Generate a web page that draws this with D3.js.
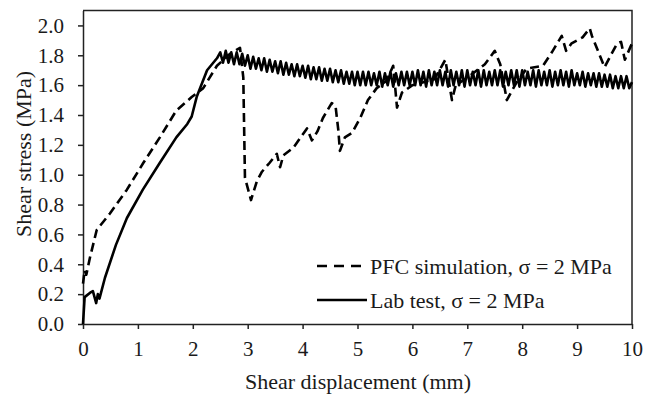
<!DOCTYPE html>
<html lang="en">
<head>
  <meta charset="UTF-8">
  <title>Shear stress vs shear displacement</title>
  <script src="https://d3js.org/d3.v7.min.js"></script>
  <style>
      body { margin: 0; background: #fff; }
      .domain, .tick line { stroke: #222; stroke-width: 1.5px; }
      .curve { fill: none; stroke: #000; stroke-width: 2.6px; stroke-linejoin: round; }
      .curve--dashed { stroke-dasharray: 9, 5; }
  </style>
</head>
<body>
<svg width="646" height="398"></svg>
<script>
  // axis ticks
  const xTicks = [0, 1, 2, 3, 4, 5, 6, 7, 8, 9, 10];
  const yTicks = [0, 0.2, 0.4, 0.6, 0.8, 1.0, 1.2, 1.4, 1.6, 1.8, 2.0];

  // PFC simulation (dashed)
  const pfcDisp = [0.0, 0.03, 0.06, 0.13, 0.25, 0.49, 0.8, 1.1, 1.4, 1.7, 1.98, 2.19, 2.44, 2.68, 2.86,
    2.92, 2.95, 3.06, 3.17, 3.26, 3.4, 3.53, 3.59, 3.65, 3.83, 4.08, 4.17, 4.27, 4.37, 4.53, 4.6,
    4.65, 4.68, 4.77, 4.9, 5.05, 5.19, 5.35, 5.53, 5.65, 5.72, 5.81, 6.0, 6.2, 6.4, 6.6, 6.72,
    6.79, 7.0, 7.32, 7.5, 7.6, 7.72, 7.9, 8.08, 8.38, 8.54, 8.72, 8.8, 8.9, 9.1, 9.23, 9.27,
    9.38, 9.5, 9.6, 9.73, 9.8, 9.87, 10.0];
  const pfcStress = [0.27, 0.36, 0.33, 0.45, 0.63, 0.74, 0.9, 1.08, 1.25, 1.43, 1.52, 1.58, 1.73, 1.81, 1.85,
    1.65, 0.98, 0.83, 0.96, 1.02, 1.08, 1.14, 1.05, 1.13, 1.18, 1.31, 1.23, 1.29, 1.38, 1.48, 1.46,
    1.3, 1.16, 1.25, 1.28, 1.38, 1.5, 1.58, 1.63, 1.73, 1.45, 1.55, 1.6, 1.62, 1.64, 1.77, 1.5,
    1.6, 1.65, 1.74, 1.83, 1.74, 1.5, 1.62, 1.71, 1.73, 1.82, 1.93, 1.83, 1.88, 1.92, 1.98, 1.93,
    1.83, 1.72, 1.79, 1.88, 1.89, 1.77, 1.88];

  // Lab test (solid)
  const labDisp = [0, 0.03, 0.13, 0.18, 0.24, 0.27, 0.3, 0.4, 0.6, 0.8, 1.09, 1.4, 1.7, 1.9, 1.98, 2.07, 2.26, 2.44,
    2.50, 2.55, 2.60, 2.65, 2.70, 2.75, 2.80, 2.85, 2.90, 2.95,
    3.00, 3.05, 3.10, 3.15, 3.20, 3.25, 3.30, 3.35, 3.40, 3.45,
    3.50, 3.55, 3.60, 3.65, 3.70, 3.75, 3.80, 3.85, 3.90, 3.95,
    4.00, 4.05, 4.10, 4.15, 4.20, 4.25, 4.30, 4.35, 4.40, 4.45,
    4.50, 4.55, 4.60, 4.65, 4.70, 4.75, 4.80, 4.85, 4.90, 4.95,
    5.00, 5.05, 5.10, 5.15, 5.20, 5.25, 5.30, 5.35, 5.40, 5.45,
    5.50, 5.55, 5.60, 5.65, 5.70, 5.75, 5.80, 5.85, 5.90, 5.95,
    6.00, 6.05, 6.10, 6.15, 6.20, 6.25, 6.30, 6.35, 6.40, 6.45,
    6.50, 6.55, 6.60, 6.65, 6.70, 6.75, 6.80, 6.85, 6.90, 6.95,
    7.00, 7.05, 7.10, 7.15, 7.20, 7.25, 7.30, 7.35, 7.40, 7.45,
    7.50, 7.55, 7.60, 7.65, 7.70, 7.75, 7.80, 7.85, 7.90, 7.95,
    8.00, 8.05, 8.10, 8.15, 8.20, 8.25, 8.30, 8.35, 8.40, 8.45,
    8.50, 8.55, 8.60, 8.65, 8.70, 8.75, 8.80, 8.85, 8.90, 8.95,
    9.00, 9.05, 9.10, 9.15, 9.20, 9.25, 9.30, 9.35, 9.40, 9.45,
    9.50, 9.55, 9.60, 9.65, 9.70, 9.75, 9.80, 9.85, 9.90, 9.95,
    10.0];
  const labStress = [0, 0.18, 0.21, 0.22, 0.14, 0.2, 0.17, 0.31, 0.53, 0.71, 0.9, 1.08, 1.25, 1.34, 1.39, 1.52, 1.7, 1.78,
    1.82, 1.75, 1.83, 1.75, 1.82, 1.74, 1.82, 1.74, 1.81, 1.73,
    1.80, 1.71, 1.79, 1.71, 1.78, 1.70, 1.78, 1.69, 1.77, 1.69,
    1.76, 1.68, 1.76, 1.67, 1.75, 1.67, 1.74, 1.66, 1.74, 1.66,
    1.73, 1.65, 1.73, 1.64, 1.72, 1.64, 1.72, 1.63, 1.71, 1.63,
    1.71, 1.62, 1.70, 1.62, 1.70, 1.61, 1.69, 1.61, 1.69, 1.60,
    1.69, 1.60, 1.69, 1.60, 1.69, 1.60, 1.68, 1.60, 1.69, 1.59,
    1.68, 1.60, 1.69, 1.59, 1.68, 1.60, 1.69, 1.60, 1.69, 1.60,
    1.69, 1.60, 1.70, 1.60, 1.69, 1.59, 1.70, 1.60, 1.69, 1.60,
    1.70, 1.60, 1.69, 1.59, 1.70, 1.60, 1.69, 1.60, 1.70, 1.59,
    1.70, 1.60, 1.69, 1.60, 1.70, 1.59, 1.70, 1.60, 1.69, 1.60,
    1.70, 1.60, 1.70, 1.59, 1.69, 1.60, 1.70, 1.60, 1.70, 1.59,
    1.70, 1.60, 1.69, 1.60, 1.70, 1.59, 1.70, 1.60, 1.69, 1.60,
    1.70, 1.59, 1.69, 1.60, 1.70, 1.60, 1.69, 1.59, 1.70, 1.60,
    1.68, 1.60, 1.69, 1.59, 1.68, 1.60, 1.68, 1.59, 1.68, 1.59,
    1.67, 1.59, 1.67, 1.58, 1.66, 1.58, 1.66, 1.58, 1.66, 1.58,
    1.62];

  const legendLabels = ["PFC simulation, \u03c3 = 2 MPa", "Lab test, \u03c3 = 2 MPa"];

  const serif = "'Liberation Serif', 'DejaVu Serif', serif";

  const svg = d3.select("svg");
  svg.append("rect").attr("width", 646).attr("height", 398).attr("fill", "#fff");

  const x = d3.scaleLinear().domain([0, 10]).range([83, 632]);
  const y = d3.scaleLinear().domain([0, 2.1]).range([324, 10.5]);

  // frame (top and right edges)
  svg.append("path")
  .attr("d", `M${x(0)},${y(2.1)}H${x(10)}V${y(0)}`)
  .attr("fill", "none")
  .attr("stroke", "#222")
  .attr("stroke-width", 1.5);

  svg.append("g")
  .attr("transform", `translate(0,${y(0)})`)
  .call(d3.axisBottom(x).tickValues(xTicks).tickSize(5).tickPadding(12).tickSizeOuter(0).tickFormat(d3.format("d")));

  svg.append("g")
  .attr("transform", `translate(${x(0)},0)`)
  .call(d3.axisLeft(y).tickValues(yTicks).tickSize(5).tickPadding(14).tickSizeOuter(0).tickFormat(d3.format(".1f")));

  svg.selectAll(".tick text")
  .style("font-family", serif)
  .style("font-size", "21px")
  .style("fill", "#1a1a1a");

  const line = d3.line().x(d => x(d[0])).y(d => y(d[1]));

  const pfc = d3.zip(pfcDisp, pfcStress);
  const lab = d3.zip(labDisp, labStress);

  svg.append("path").datum(pfc).attr("class", "curve curve--dashed").attr("d", line);
  svg.append("path").datum(lab).attr("class", "curve").attr("d", line);

  // axis titles
  const titles = svg.append("g")
  .style("font-family", serif)
  .style("font-size", "22px")
  .style("fill", "#1a1a1a");

  titles.append("text")
  .attr("x", 358).attr("y", 389)
  .attr("text-anchor", "middle")
  .text("Shear displacement (mm)");

  titles.append("text")
  .attr("transform", "translate(31,154) rotate(-90)")
  .attr("text-anchor", "middle")
  .text("Shear stress (MPa)");

  // legend
  const rows = [{label: legendLabels[0], dashed: true, y: 266}, {label: legendLabels[1], dashed: false, y: 300}];
  rows.forEach(r => {
    titles.append("line")
    .attr("x1", 317).attr("x2", 367).attr("y1", r.y).attr("y2", r.y)
    .attr("class", r.dashed ? "curve curve--dashed" : "curve")
    .style("stroke-dasharray", r.dashed ? "10,7" : null);
    titles.append("text")
    .attr("x", 370).attr("y", r.y + 8)
    .text(r.label);
  });
</script>
</body>
</html>
